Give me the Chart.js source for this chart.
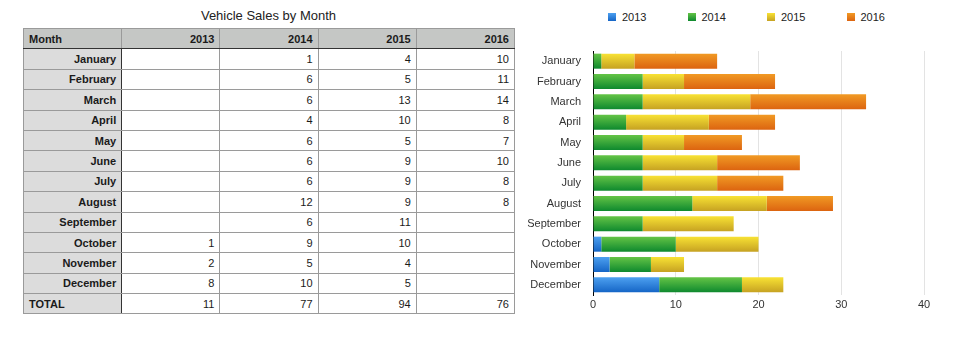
<!DOCTYPE html>
<html>
<head>
<meta charset="utf-8">
<script src="https://cdn.jsdelivr.net/npm/chart.js@4/dist/chart.umd.min.js"></script>
<style>
  body{ margin:0; background:#fff; font-family:"Liberation Sans", Arial, sans-serif; color:#222; }
  #wrap{ position:relative; width:960px; height:343px; overflow:hidden; }
  #title{ position:absolute; left:23px; top:8px; width:491px; text-align:center; font-size:13px; }
  table{ position:absolute; left:23px; top:28px; width:492px; border-collapse:collapse; font-size:11px; table-layout:fixed; color:#1a1a1a; }
  td, th{ border:1px solid #9a9a9a; height:19.4px; padding:0 5px; text-align:right; font-weight:normal; }
  thead th{ background:#c5c7c5; font-weight:bold; border-bottom:1px solid #333; }
  thead th:first-child{ text-align:left; }
  tbody th{ background:#dcdcdc; font-weight:bold; border-right:1px solid #333; }
  tbody tr.total th{ text-align:left; }
  #legend{ position:absolute; left:608px; top:11px; display:flex; font-size:11px; }
  .item{ display:flex; align-items:center; width:79.5px; }
  .box{ width:8px; height:8px; margin-right:6px; }
  #chartBox{ position:absolute; left:520px; top:0; width:440px; height:343px; }
</style>
</head>
<body>
<div id="wrap">
  <div id="title">Vehicle Sales by Month</div>
  <table id="tbl"></table>
  <div id="legend"></div>
  <div id="chartBox"><canvas id="chart"></canvas></div>
</div>
<script>
const months = ['January','February','March','April','May','June','July','August','September','October','November','December'];
const years = ['2013','2014','2015','2016'];
const s2013 = [null,null,null,null,null,null,null,null,null,1,2,8];
const s2014 = [1,6,6,4,6,6,6,12,6,9,5,10];
const s2015 = [4,5,13,10,5,9,9,9,11,10,4,5];
const s2016 = [10,11,14,8,7,10,8,8,null,null,null,null];
const xTicks = [0,10,20,30,40];

// top / bottom colours of each bar gradient
const topColors = ['#4da0f0','#64c446','#f8e234','#f19a24'];
const botColors = ['#1565c6','#0e892e','#c6a222','#dc6410'];

const series = [s2013, s2014, s2015, s2016];
const el = (id) => document.getElementById(id);

// table
function buildTable(){
  const t = el('tbl');
  let h = '<colgroup>' + '<col style="width:98px">'.repeat(5) + '</colgroup>';
  h += '<thead><tr><th>Month</th>' + years.map(y => `<th>${y}</th>`).join('') + '</tr></thead><tbody>';
  months.forEach((m,i) => {
    h += `<tr><th>${m}</th>` + series.map(s => `<td>${s[i] == null ? '' : s[i]}</td>`).join('') + '</tr>';
  });
  const totals = series.map(s => s.reduce((a,v) => a + (v || 0), 0));
  h += '<tr class="total"><th>TOTAL</th>' + totals.map(v => `<td>${v}</td>`).join('') + '</tr></tbody>';
  t.innerHTML = h;
}
buildTable();

// legend
el('legend').innerHTML = years.map((y,i) =>
  `<div class="item"><div class="box" style="background:linear-gradient(${topColors[i]},${botColors[i]})"></div>${y}</div>`
).join('');

function barFill(i){
  return (c) => {
    const chart = c.chart;
    const ys = chart.scales && chart.scales.y;
    if(!ys || c.dataIndex == null || !chart.chartArea) return botColors[i];
    const cy = ys.getPixelForValue(c.dataIndex);
    const g = chart.ctx.createLinearGradient(0, cy - 7.5, 0, cy + 7.5);
    g.addColorStop(0, topColors[i]);
    g.addColorStop(1, botColors[i]);
    return g;
  };
}

const datasets = years.map((y,i) => ({
  label: y,
  data: series[i],
  backgroundColor: barFill(i),
  borderWidth: 0,
  barPercentage: 0.74,
  categoryPercentage: 1
}));

new Chart(el('chart'), {
  type: 'bar',
  data: { labels: months, datasets },
  options: {
    indexAxis: 'y',
    responsive: true,
    maintainAspectRatio: false,
    animation: false,
    layout: { padding: { top: 51, right: 36, bottom: 18, left: 0 } },
    plugins: { legend: { display: false }, tooltip: { enabled: false } },
    scales: {
      x: {
        stacked: true, min: 0, max: 40,
        afterBuildTicks: (s) => { s.ticks = xTicks.map(v => ({ value: v })); },
        afterFit: (s) => { s.height = 30; },
        grid: { color: '#e3e3e3', drawTicks: false },
        border: { display: false },
        ticks: { padding: 3, color: '#333', font: { family: '"Liberation Sans", Arial, sans-serif', size: 11 } }
      },
      y: {
        stacked: true,
        afterFit: (s) => { s.width = 73; },
        grid: { display: false, drawTicks: false },
        border: { display: true, color: '#000', width: 1 },
        ticks: { padding: 12, color: '#333', font: { family: '"Liberation Sans", Arial, sans-serif', size: 11 } }
      }
    }
  }
});
</script>
</body>
</html>
